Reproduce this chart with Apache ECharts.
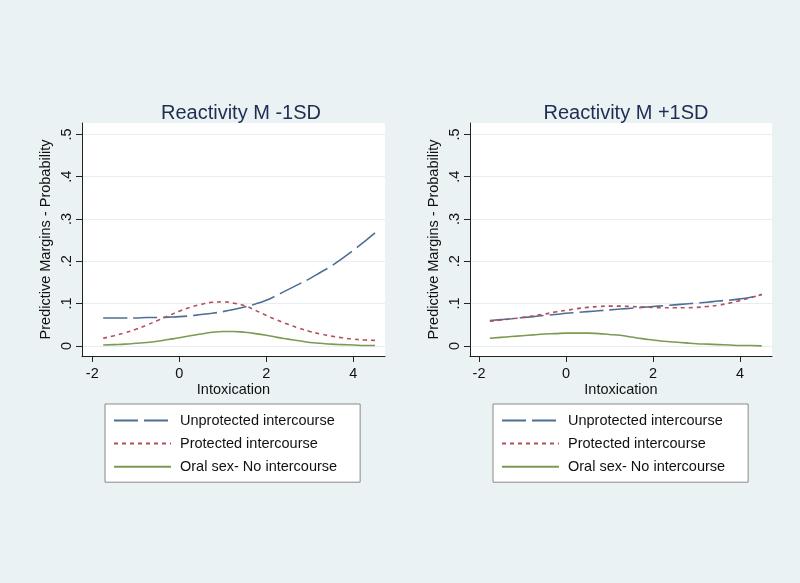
<!DOCTYPE html>
<html>
<head>
<meta charset="utf-8">
<script src="https://cdn.jsdelivr.net/npm/echarts@6/dist/echarts.min.js"></script>
<style>
html,body{margin:0;padding:0;background:#eaf2f3;}
#chart{width:800px;height:583px;}
</style>
</head>
<body>
<div id="chart"></div>
<script>
// Data
var intoxication = [-1.75,-1.5,-1.25,-1.0,-0.75,-0.5,-0.25,0,0.25,0.5,0.75,1.0,1.25,1.5,1.75,2.0,2.25,2.5,2.75,3.0,3.25,3.5,3.75,4.0,4.25,4.5];

var lowUnprotected = [0.066,0.066,0.066,0.066,0.067,0.067,0.068,0.069,0.071,0.074,0.077,0.081,0.086,0.092,0.099,0.108,0.120,0.133,0.146,0.159,0.174,0.189,0.207,0.226,0.246,0.267];
var lowProtected   = [0.018,0.024,0.031,0.039,0.049,0.060,0.071,0.082,0.091,0.098,0.103,0.104,0.101,0.095,0.084,0.072,0.061,0.051,0.042,0.034,0.028,0.023,0.019,0.016,0.014,0.013];
var lowOral        = [0.002,0.003,0.004,0.006,0.008,0.011,0.015,0.019,0.024,0.028,0.032,0.034,0.034,0.032,0.029,0.025,0.020,0.016,0.012,0.008,0.006,0.004,0.003,0.002,0.001,0.001];

var highUnprotected = [0.060,0.062,0.064,0.067,0.069,0.072,0.074,0.077,0.079,0.081,0.083,0.085,0.087,0.089,0.091,0.093,0.095,0.097,0.099,0.101,0.103,0.106,0.108,0.111,0.115,0.121];
var highProtected   = [0.058,0.061,0.064,0.067,0.071,0.075,0.080,0.084,0.088,0.091,0.093,0.094,0.094,0.093,0.092,0.091,0.090,0.090,0.090,0.091,0.093,0.096,0.101,0.107,0.114,0.122];
var highOral        = [0.018,0.020,0.022,0.024,0.026,0.028,0.029,0.030,0.030,0.030,0.029,0.027,0.025,0.021,0.017,0.014,0.011,0.009,0.007,0.005,0.004,0.003,0.002,0.001,0.001,0.000];

var xTicks = [-2,0,2,4];
var yTicks = [0,0.1,0.2,0.3,0.4,0.5];
var yTickLabels = ['0','.1','.2','.3','.4','.5'];
var titles = ['Reactivity M -1SD','Reactivity M +1SD'];
var seriesNames = ['Unprotected intercourse','Protected intercourse','Oral sex- No intercourse'];

var FONT = '"Liberation Sans", Arial, Helvetica, sans-serif';
var colors = ['#4d6f94','#b4505c','#7b9a52'];
var dashes = [[24,6],[4,4],'solid'];

function pairs(ys){ return intoxication.map(function(x,i){ return [x, ys[i]]; }); }

function xAxis(idx, min, max){
  return {
    type:'value', gridIndex: idx, min:min, max:max,
    name:'Intoxication', nameLocation:'middle', nameGap:26,
    nameTextStyle:{fontFamily:FONT, fontSize:14.5, color:'#111'},
    axisLine:{show:true, onZero:false, lineStyle:{color:'#222', width:1}},
    axisTick:{show:true, length:6, lineStyle:{color:'#222'}, customValues:xTicks},
    axisLabel:{fontFamily:FONT, fontSize:14.5, color:'#111', margin:10, customValues:xTicks},
    splitLine:{show:false}
  };
}
function yAxis(idx){
  return {
    type:'value', gridIndex: idx, min:-0.024, max:0.527,
    name:'Predictive Margins - Probability', nameLocation:'middle', nameGap:29, nameRotate:90,
    nameTextStyle:{fontFamily:FONT, fontSize:14.5, color:'#111'},
    axisLine:{show:true, onZero:false, lineStyle:{color:'#222', width:1}},
    axisTick:{show:true, length:6, lineStyle:{color:'#222'}, customValues:yTicks},
    axisLabel:{fontFamily:FONT, fontSize:14.5, color:'#111', margin:8, rotate:90, customValues:yTicks,
      formatter:function(v){ var i = yTicks.findIndex(function(t){return Math.abs(t-v)<1e-9;}); return i>=0?yTickLabels[i]:''; }},
    splitLine:{show:true, lineStyle:{color:'#e6eef0', width:1}}
  };
}
function mkSeries(idx, data){
  return data.map(function(d,k){
    return {
      name: seriesNames[k], type:'line', xAxisIndex:idx, yAxisIndex:idx,
      data: pairs(d), smooth:true, symbol:'none', showSymbol:false,
      lineStyle:{color:colors[k], width:1.6, type:dashes[k]},
      itemStyle:{color:colors[k]}, animation:false
    };
  });
}
function legend(left){
  return {
    left:left, top:404, orient:'vertical',
    data: seriesNames,
    itemWidth:57, itemHeight:14, itemGap:8.1,
    padding:[9,23,8,8],
    backgroundColor:'#fff', borderColor:'#8a8a8a', borderWidth:1,
    selectedMode:false,
    itemStyle:{opacity:0},
    textStyle:{fontFamily:FONT, fontSize:14.5, color:'#111', padding:[0,0,0,4], lineHeight:14}
  };
}

var chart = echarts.init(document.getElementById('chart'), null, {renderer:'canvas'});
chart.setOption({
  backgroundColor:'#eaf2f3',
  animation:false,
  title:[
    {text:titles[0], left:236, top:98, textAlign:'center', textStyle:{fontFamily:FONT, fontSize:20, fontWeight:'normal', color:'#1e2d53'}},
    {text:titles[1], left:621, top:98, textAlign:'center', textStyle:{fontFamily:FONT, fontSize:20, fontWeight:'normal', color:'#1e2d53'}}
  ],
  grid:[
    {left:82, top:123, width:303, height:233, show:true, backgroundColor:'#fff', borderWidth:0},
    {left:470, top:123, width:302, height:233, show:true, backgroundColor:'#fff', borderWidth:0}
  ],
  xAxis:[xAxis(0,-2.237,4.729), xAxis(1,-2.207,4.736)],
  yAxis:[yAxis(0), yAxis(1)],
  legend:[legend(105), legend(493)],
  series: mkSeries(0,[lowUnprotected,lowProtected,lowOral]).concat(mkSeries(1,[highUnprotected,highProtected,highOral]))
});
</script>
</body>
</html>
